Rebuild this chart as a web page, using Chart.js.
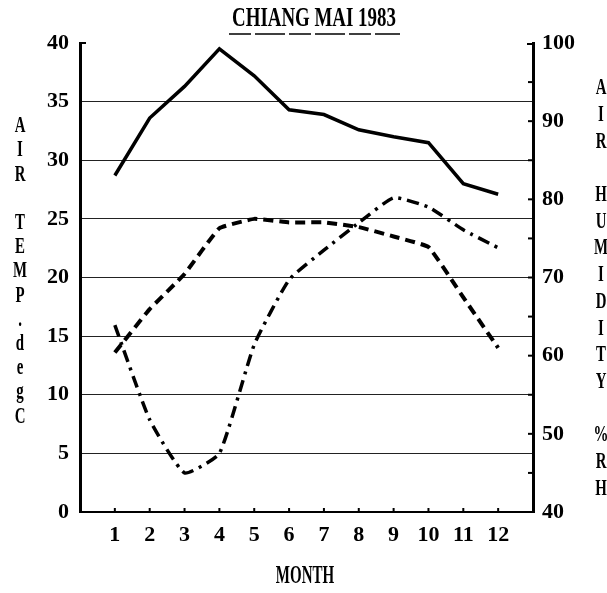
<!DOCTYPE html>
<html>
<head>
<meta charset="utf-8">
<title>Chiang Mai 1983</title>
<script src="https://cdn.jsdelivr.net/npm/chart.js@4/dist/chart.umd.min.js"></script>
<style>
  html, body { margin: 0; padding: 0; background: #fff; }
</style>
</head>
<body>
<canvas id="chiang-mai-chart" width="607" height="593"></canvas>
<script>
var months = [1, 2, 3, 4, 5, 6, 7, 8, 9, 10, 11, 12];
var maxTemp = [28.7, 33.6, 36.3, 39.5, 37.2, 34.3, 33.9, 32.6, 32.0, 31.5, 28.0, 27.1];
var minTemp = [13.6, 17.3, 20.3, 24.2, 25.0, 24.7, 24.7, 24.3, 23.5, 22.6, 18.3, 14.0];
var humidity = [63.9, 51.8, 45.0, 47.5, 61.4, 69.7, 73.5, 77.0, 80.2, 79.0, 76.1, 73.8];
var tempTicks = [0, 5, 10, 15, 20, 25, 30, 35, 40];
var humidityTicks = [40, 50, 60, 70, 80, 90, 100];
var chartTitle = "CHIANG MAI 1983";
var xTitle = "MONTH";
var leftLabel = "AIR TEMP.degC";
var rightLabel = "AIR HUMIDITY %RH";

var FONT = "'Liberation Serif', 'DejaVu Serif', serif";

function points(values){
	return months.map(function(m, i){ return {x: m, y: values[i]}; });
}

function setTicks(list){
	return function(scale){
		scale.ticks = list.map(function(v){ return {value: v}; });
	};
}

// squeezed text, the scan uses a very narrow typeface
function narrowText(ctx, text, x, y, size, squeeze){
	ctx.save();
	ctx.translate(x, y);
	ctx.scale(squeeze, 1);
	ctx.font = "bold " + size + "px " + FONT;
	ctx.textAlign = "center";
	ctx.textBaseline = "middle";
	ctx.fillText(text, 0, 0);
	ctx.restore();
}

function stackedLetters(ctx, text, x, y0, step){
	var chars = text.split("");
	for (var i = 0; i < chars.length; i++) {
		if (chars[i] == " ") continue;
		narrowText(ctx, chars[i], x, y0 + i * step, 24, 0.62);
	}
}

var paperText = {
	id: "paperText",
	afterDraw: function(chart){
		var ctx = chart.ctx;
		var area = chart.chartArea;
		var xs = chart.scales.x;
		var y1 = chart.scales.y1;
		ctx.save();
		ctx.fillStyle = "#000";
		ctx.strokeStyle = "#000";

		narrowText(ctx, chartTitle, 314, 19, 27, 0.7);
		ctx.lineWidth = 1.5;
		ctx.setLineDash([22, 4, 30, 4]);
		ctx.beginPath();
		ctx.moveTo(229, 34);
		ctx.lineTo(400, 34);
		ctx.stroke();
		ctx.setLineDash([]);

		narrowText(ctx, xTitle, 305, 577, 25, 0.6);

		stackedLetters(ctx, leftLabel, 20, 126, 24.2);
		stackedLetters(ctx, rightLabel, 601, 88, 26.7);

		// small month ticks standing on the axis
		ctx.lineWidth = 2;
		months.forEach(function(m){
			var px = xs.getPixelForValue(m);
			ctx.beginPath();
			ctx.moveTo(px, area.bottom);
			ctx.lineTo(px, area.bottom - 4);
			ctx.stroke();
		});

		// inner ticks on the humidity axis
		for (var v = 45; v < 100; v += 5) {
			var py = y1.getPixelForValue(v);
			ctx.beginPath();
			ctx.moveTo(area.right, py);
			ctx.lineTo(area.right - 5, py);
			ctx.stroke();
		}

		// bracket ends at the top of both axes
		ctx.lineWidth = 2;
		ctx.beginPath();
		ctx.moveTo(area.left, area.top);
		ctx.lineTo(area.left + 6, area.top);
		ctx.moveTo(area.right, area.top + 1);
		ctx.lineTo(area.right - 6, area.top + 1);
		ctx.stroke();
		ctx.restore();
	}
};

new Chart("chiang-mai-chart", {
	type: "line",
	data: {
		datasets: [{
			label: "Max temp",
			data: points(maxTemp),
			yAxisID: "y",
			borderColor: "#000",
			borderWidth: 3.5,
			pointRadius: 0,
			tension: 0
		}, {
			label: "Min temp",
			data: points(minTemp),
			yAxisID: "y",
			borderColor: "#000",
			borderWidth: 4,
			borderDash: [10, 6],
			pointRadius: 0,
			tension: 0.1
		}, {
			label: "Humidity",
			data: points(humidity),
			yAxisID: "y1",
			borderColor: "#000",
			borderWidth: 3.5,
			borderDash: [12, 6, 3, 6],
			pointRadius: 0,
			tension: 0.15
		}]
	},
	options: {
		responsive: false,
		animation: false,
		layout: {padding: {top: 43, left: 0, right: 0, bottom: 0}},
		plugins: {
			legend: {display: false},
			title: {display: false},
			tooltip: {enabled: false}
		},
		scales: {
			x: {
				type: "linear",
				min: 0,
				max: 13,
				afterFit: function(s){ s.height = 81; },
				afterBuildTicks: setTicks(months),
				grid: {display: false, drawTicks: false},
				border: {display: true, color: "#000", width: 2},
				ticks: {
					color: "#000",
					padding: 10,
					font: {family: FONT, size: 22, weight: "bold"}
				}
			},
			y: {
				position: "left",
				min: 0,
				max: 40,
				afterFit: function(s){ s.width = 80; },
				afterBuildTicks: setTicks(tempTicks),
				grid: {
					drawTicks: false,
					lineWidth: 1,
					color: function(c){
						var v = c.tick && c.tick.value;
						return (v == 0 || v == 40) ? "rgba(0,0,0,0)" : "#222";
					}
				},
				border: {display: true, color: "#000", width: 3},
				ticks: {
					color: "#000",
					padding: 11,
					font: {family: FONT, size: 22, weight: "bold"}
				}
			},
			y1: {
				position: "right",
				min: 40,
				max: 100,
				afterFit: function(s){ s.width = 74; },
				afterBuildTicks: setTicks(humidityTicks),
				grid: {display: false, drawTicks: false},
				border: {display: true, color: "#000", width: 3},
				ticks: {
					color: "#000",
					padding: 9,
					font: {family: FONT, size: 22, weight: "bold"}
				}
			}
		}
	},
	plugins: [paperText]
});
</script>
</body>
</html>
